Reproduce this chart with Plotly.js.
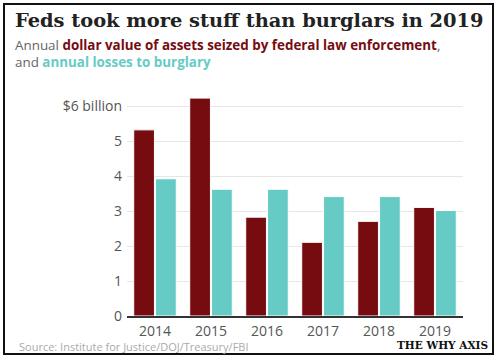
<!DOCTYPE html>
<html>
<head>
<meta charset="utf-8">
<script src="https://cdn.plot.ly/plotly-3.0.1.min.js"></script>
<style>html,body{margin:0;padding:0;background:#fff;}#chart{width:498px;height:360px;}</style>
</head>
<body>
<div id="chart"></div>
<script>
var years = ['2014', '2015', '2016', '2017', '2018', '2019'];
var seized = [5.33, 6.24, 2.83, 2.11, 2.71, 3.11];
var burglary = [3.93, 3.63, 3.63, 3.42, 3.42, 3.02];
var yTickVals = [0, 1, 2, 3, 4, 5, 6];
var yTickText = ['0', '1', '2', '3', '4', '5', '$6 billion'];

var RED = '#760c10', TEAL = '#66cbc5';
var L = 127, R = 463, T = 96, B = 316;
function px(x) { return (x - L) / (R - L); }
function py(y) { return (B - y) / (B - T); }
var SANS = '"Open Sans", sans-serif';

var traces = [
  {type: 'bar', x: years, y: seized, name: 'seized', marker: {color: RED, line: {color: '#ffffff', width: 1}}},
  {type: 'bar', x: years, y: burglary, name: 'burglary', marker: {color: TEAL, line: {color: '#ffffff', width: 1}}}
];

var layout = {
  width: 498, height: 360,
  margin: {l: L, r: 498 - R, t: T, b: 360 - B, pad: 0},
  paper_bgcolor: '#fff', plot_bgcolor: '#fff',
  showlegend: false,
  barmode: 'group', bargap: 0.22, bargroupgap: 0.05,
  font: {family: SANS, color: '#555'},
  xaxis: {
    type: 'category', showgrid: false, showline: true, linecolor: '#333', linewidth: 1.5,
    ticks: '', tickfont: {size: 14, color: '#555', family: SANS}, zeroline: false, ticklabelstandoff: 2
  },
  yaxis: {
    range: [0, 6.3], tickvals: yTickVals, ticktext: yTickText, showgrid: true, gridcolor: '#e6e6e6',
    gridwidth: 1, zeroline: false, showline: false, ticks: '', ticklabelstandoff: 4,
    tickfont: {size: 14, color: '#555', family: SANS}
  },
  shapes: [
    {type: 'rect', xref: 'paper', yref: 'paper', x0: px(4), x1: px(493), y0: py(354), y1: py(4),
     line: {color: '#111', width: 2}, fillcolor: 'rgba(0,0,0,0)', layer: 'above'}
  ],
  annotations: [
    {xref: 'paper', yref: 'paper', x: px(13), y: py(20), xanchor: 'left', yanchor: 'middle', showarrow: false,
     text: '<b>Feds took more stuff than burglars in 2019</b>',
     font: {family: '"DejaVu Serif", serif', size: 19.4, color: '#222'}},
    {xref: 'paper', yref: 'paper', x: px(13), y: py(53.5), xanchor: 'left', yanchor: 'middle', align: 'left', showarrow: false,
     text: 'Annual <b><span style="color:' + RED + '">dollar value of assets seized by federal law enforcement</span></b>,<br>and <b><span style="color:' + TEAL + '">annual losses to burglary</span></b>',
     font: {family: SANS, size: 13.4, color: '#666'}},
    {xref: 'paper', yref: 'paper', x: px(17), y: py(346), xanchor: 'left', yanchor: 'middle', showarrow: false,
     text: 'Source: Institute for Justice/DOJ/Treasury/FBI',
     font: {family: SANS, size: 11, color: '#aaa'}},
    {xref: 'paper', yref: 'paper', x: px(490), y: py(344.5), xanchor: 'right', yanchor: 'middle', showarrow: false,
     text: '<b>THE WHY AXIS</b>',
     font: {family: '"DejaVu Serif", serif', size: 10.5, color: '#111'}}
  ]
};

Plotly.newPlot('chart', traces, layout, {displayModeBar: false, staticPlot: true});
</script>
</body>
</html>
